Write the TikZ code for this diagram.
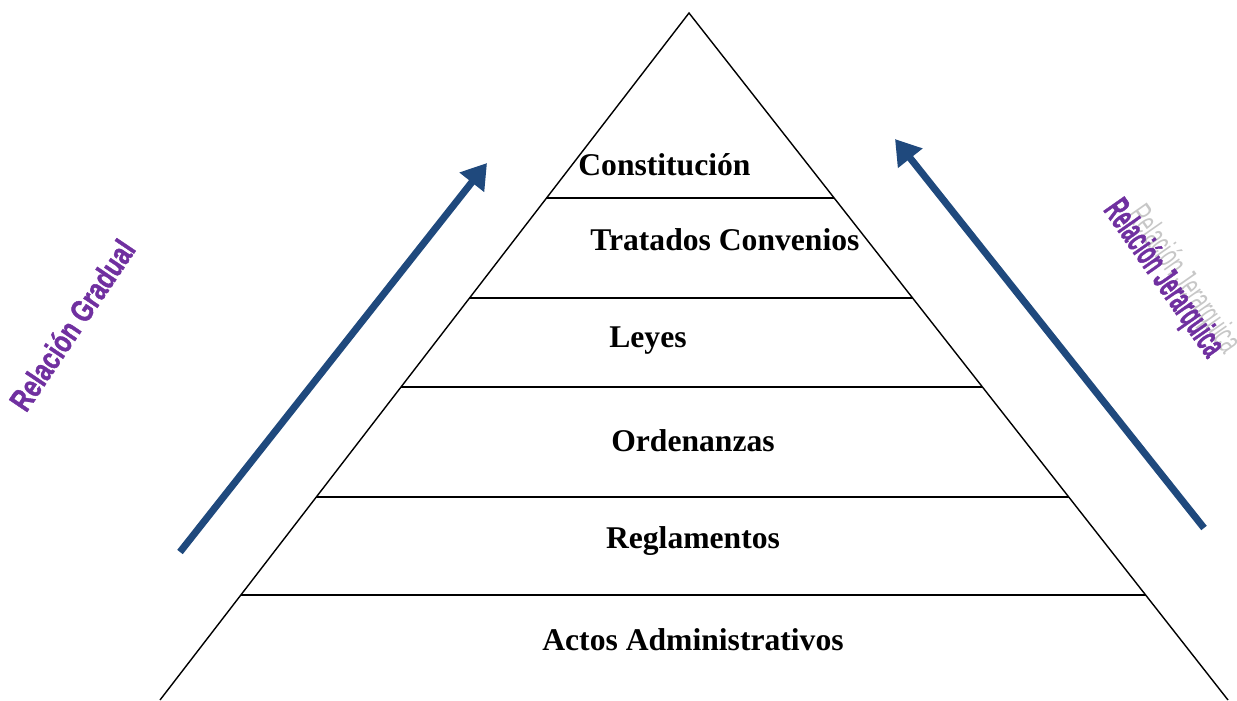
\documentclass[tikz,border=0pt]{standalone}
\usepackage{fontspec}
\usepackage{graphicx}
\setmainfont{Liberation Serif}
\newfontfamily\wordart[BoldFeatures={FakeBold=1.5}]{Liberation Sans}
\usetikzlibrary{arrows.meta,calc}
\definecolor{arrowblue}{RGB}{31,73,125}
\definecolor{wordpurple}{RGB}{112,48,160}
\begin{document}
\begin{tikzpicture}[x=0.02cm,y=-0.02cm,
  levelline/.style={line width=0.8pt},
  levellabel/.style={font=\fontsize{18}{20}\selectfont\bfseries, inner sep=0pt},
  bigarrow/.style={arrowblue, line width=4pt, -{Triangle[length=14pt,width=17pt]}},
  sidelabel/.style={wordpurple, font=\wordart\fontsize{18}{20}\selectfont\bfseries, inner sep=0pt}]
\useasboundingbox (0,0) rectangle (1237,700);

% Pyramid corners
\coordinate (apex) at (689,13);
\coordinate (baseL) at (160,700);
\coordinate (baseR) at (1228,700);
\draw[levelline] (baseL) -- (apex) -- (baseR);

% Level lines
\foreach \t [count=\i] in {0.2693,0.4148,0.5444,0.7045,0.8472} {
  \draw[levelline] ($(apex)!\t!(baseL)$) coordinate (l\i) -- ($(apex)!\t!(baseR)$) coordinate (r\i);
}

% Level labels
\node[levellabel, anchor=west] (const) at (578,165) {Constitución};
\node[levellabel, anchor=west] (trat) at (590,240) {Tratados Convenios};
\node[levellabel, anchor=west] (leyes) at (609,341) {Leyes};
\node[levellabel] (orden) at (693,441) {Ordenanzas};
\node[levellabel] (regla) at (693,541) {Reglamentos};
\node[levellabel] (actos) at (693,640) {Actos Administrativos};

% Arrows
\coordinate (gradS) at (180,552);
\coordinate (gradE) at (487,163);
\coordinate (jerS) at (1204,528);
\coordinate (jerE) at (895,139);
\draw[bigarrow] (gradS) -- (gradE);
\draw[bigarrow] (jerS) -- (jerE);

% Side labels
\node[sidelabel, rotate=56] (gradual) at (72,325) {\scalebox{0.76}[1]{Relación Gradual}};
\node[sidelabel, black!22, font=\wordart\fontsize{20}{22}\selectfont, rotate=-55] (jerShadow) at (1183,280) {\scalebox{0.55}[1]{Relación Jerarquica}};
\node[sidelabel, font=\wordart\fontsize{21}{23}\selectfont\bfseries, rotate=-55] (jerarquica) at (1163,279) {\scalebox{0.52}[1]{Relación Jerarquica}};
\end{tikzpicture}
\end{document}
